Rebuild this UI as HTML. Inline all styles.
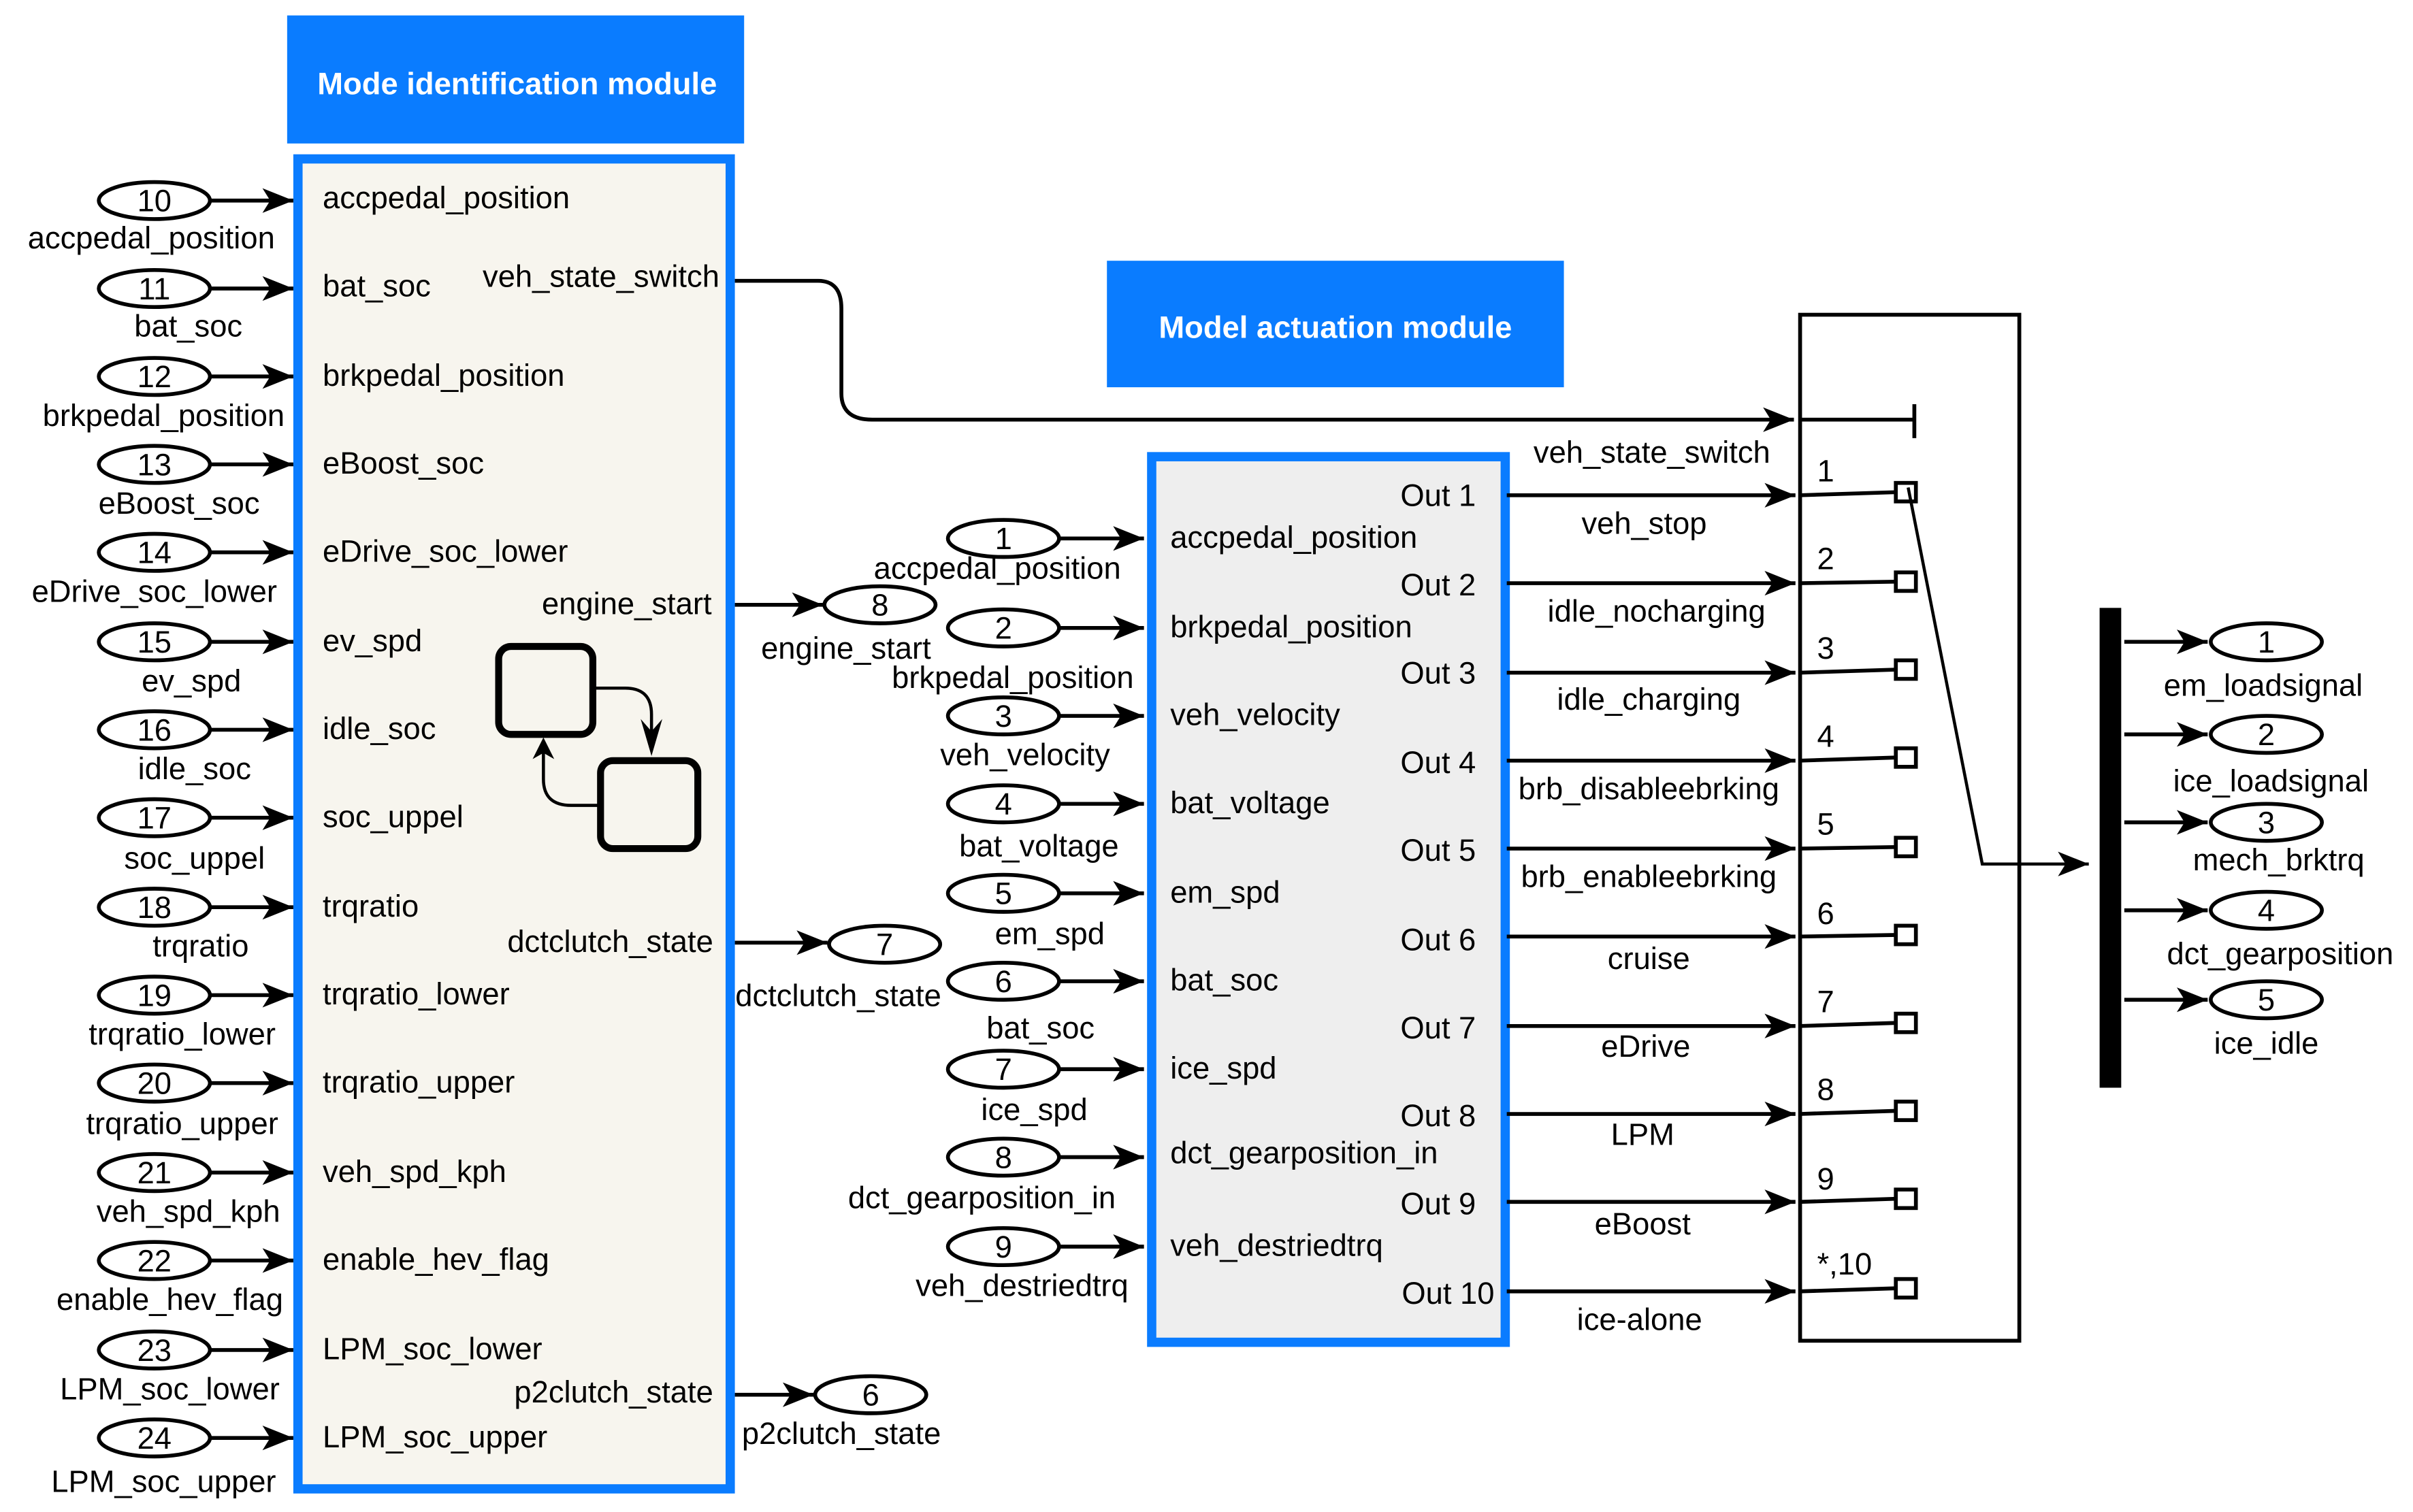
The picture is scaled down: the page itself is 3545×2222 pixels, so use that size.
<!DOCTYPE html>
<html><head><meta charset="utf-8"><style>
html,body{margin:0;padding:0;background:#fff;}
svg{display:block;}
text{font-family:"Liberation Sans",Arial,sans-serif;font-size:20px;fill:#000;}
</style></head><body>
<svg width="3545" height="2222" viewBox="0 0 1563 980" preserveAspectRatio="none" xmlns="http://www.w3.org/2000/svg">
<defs>
<marker id="a" viewBox="0 0 20 16" refX="20" refY="8" markerWidth="20" markerHeight="16" markerUnits="userSpaceOnUse" orient="auto">
<path d="M0,0 L20,8 L0,16 L5,8 Z" fill="#000"/></marker>
</defs>
<rect width="1563" height="980" fill="#fff"/>
<rect x="186" y="10" width="296" height="83" fill="#0a7cff"/>
<text x="335" y="61" text-anchor="middle" style="fill:#fff;font-weight:bold;font-size:20px">Mode identification module</text>
<rect x="193" y="103" width="280" height="862" fill="#f7f5ee" stroke="#0a7cff" stroke-width="6"/>
<g stroke="#000" stroke-width="2.5" fill="none">
<ellipse cx="100" cy="130" rx="36" ry="12"/><ellipse cx="100" cy="187" rx="36" ry="12"/><ellipse cx="100" cy="244" rx="36" ry="12"/><ellipse cx="100" cy="301" rx="36" ry="12"/><ellipse cx="100" cy="358" rx="36" ry="12"/><ellipse cx="100" cy="416" rx="36" ry="12"/><ellipse cx="100" cy="473" rx="36" ry="12"/><ellipse cx="100" cy="530" rx="36" ry="12"/><ellipse cx="100" cy="588" rx="36" ry="12"/><ellipse cx="100" cy="645" rx="36" ry="12"/><ellipse cx="100" cy="702" rx="36" ry="12"/><ellipse cx="100" cy="760" rx="36" ry="12"/><ellipse cx="100" cy="817" rx="36" ry="12"/><ellipse cx="100" cy="875" rx="36" ry="12"/><ellipse cx="100" cy="932" rx="36" ry="12"/>
</g>
<g stroke="#000" stroke-width="2.5" marker-end="url(#a)">
<line x1="136" y1="130" x2="190" y2="130"/><line x1="136" y1="187" x2="190" y2="187"/><line x1="136" y1="244" x2="190" y2="244"/><line x1="136" y1="301" x2="190" y2="301"/><line x1="136" y1="358" x2="190" y2="358"/><line x1="136" y1="416" x2="190" y2="416"/><line x1="136" y1="473" x2="190" y2="473"/><line x1="136" y1="530" x2="190" y2="530"/><line x1="136" y1="588" x2="190" y2="588"/><line x1="136" y1="645" x2="190" y2="645"/><line x1="136" y1="702" x2="190" y2="702"/><line x1="136" y1="760" x2="190" y2="760"/><line x1="136" y1="817" x2="190" y2="817"/><line x1="136" y1="875" x2="190" y2="875"/><line x1="136" y1="932" x2="190" y2="932"/>
</g>
<g text-anchor="middle">
<text x="100" y="137">10</text><text x="100" y="194">11</text><text x="100" y="251">12</text><text x="100" y="308">13</text><text x="100" y="365">14</text><text x="100" y="423">15</text><text x="100" y="480">16</text><text x="100" y="537">17</text><text x="100" y="595">18</text><text x="100" y="652">19</text><text x="100" y="709">20</text><text x="100" y="767">21</text><text x="100" y="824">22</text><text x="100" y="882">23</text><text x="100" y="939">24</text>
<text x="98" y="161">accpedal_position</text><text x="122" y="218">bat_soc</text><text x="106" y="276">brkpedal_position</text><text x="116" y="333">eBoost_soc</text><text x="100" y="390">eDrive_soc_lower</text><text x="124" y="448">ev_spd</text><text x="126" y="505">idle_soc</text><text x="126" y="563">soc_uppel</text><text x="130" y="620">trqratio</text><text x="118" y="677">trqratio_lower</text><text x="118" y="735">trqratio_upper</text><text x="122" y="792">veh_spd_kph</text><text x="110" y="849">enable_hev_flag</text><text x="110" y="907">LPM_soc_lower</text><text x="106" y="967">LPM_soc_upper</text>
</g>
<g>
<text x="209" y="135">accpedal_position</text><text x="209" y="192">bat_soc</text><text x="209" y="250">brkpedal_position</text><text x="209" y="307">eBoost_soc</text><text x="209" y="364">eDrive_soc_lower</text><text x="209" y="422">ev_spd</text><text x="209" y="479">idle_soc</text><text x="209" y="536">soc_uppel</text><text x="209" y="594">trqratio</text><text x="209" y="651">trqratio_lower</text><text x="209" y="708">trqratio_upper</text><text x="209" y="766">veh_spd_kph</text><text x="209" y="823">enable_hev_flag</text><text x="209" y="881">LPM_soc_lower</text><text x="209" y="938">LPM_soc_upper</text>
</g>
<g text-anchor="end">
<text x="466" y="186">veh_state_switch</text><text x="461" y="398">engine_start</text><text x="462" y="617">dctclutch_state</text><text x="462" y="909">p2clutch_state</text>
</g>
<g stroke="#000" fill="none">
<rect x="323" y="419" width="61" height="57" rx="8" stroke-width="4.5"/>
<rect x="389" y="493" width="63" height="57" rx="8" stroke-width="4.5"/>
<path d="M384,446 H405 Q422,446 422,463 V484" stroke-width="2"/>
<path d="M389,522 H370 Q352,522 352,505 V484" stroke-width="2"/>
</g>
<path d="M415,466 L422,490 L429,466 L422,474Z" fill="#000"/>
<path d="M345,492 L352,478 L359,492 L352,488Z" fill="#000"/>
<g stroke="#000" stroke-width="2.5" fill="none">
<path d="M476,182 H530 Q545,182 545,200 V255 Q545,272 565,272 H1162" marker-end="url(#a)"/>
<line x1="476" y1="392" x2="533" y2="392" marker-end="url(#a)"/>
<line x1="476" y1="611" x2="536" y2="611" marker-end="url(#a)"/>
<line x1="476" y1="904" x2="527" y2="904" marker-end="url(#a)"/>
<ellipse cx="570" cy="392" rx="36" ry="12"/><ellipse cx="573" cy="612" rx="36" ry="12"/><ellipse cx="564" cy="904" rx="36" ry="12"/>
</g>
<g text-anchor="middle">
<text x="570" y="399">8</text><text x="573" y="619">7</text><text x="564" y="911">6</text>
<text x="548" y="427">engine_start</text><text x="543" y="652">dctclutch_state</text><text x="545" y="936">p2clutch_state</text>
</g>
<rect x="717" y="169" width="296" height="82" fill="#0a7cff"/>
<text x="865" y="219" text-anchor="middle" style="fill:#fff;font-weight:bold;font-size:20px">Model actuation module</text>
<rect x="746" y="296" width="229" height="574" fill="#eeeeee" stroke="#0a7cff" stroke-width="6"/>
<g text-anchor="end">
<text x="956" y="328">Out 1</text><text x="956" y="386">Out 2</text><text x="956" y="443">Out 3</text><text x="956" y="501">Out 4</text><text x="956" y="558">Out 5</text><text x="956" y="616">Out 6</text><text x="956" y="673">Out 7</text><text x="956" y="730">Out 8</text><text x="956" y="787">Out 9</text><text x="968" y="845">Out 10</text>
</g>
<g>
<text x="758" y="355">accpedal_position</text><text x="758" y="413">brkpedal_position</text><text x="758" y="470">veh_velocity</text><text x="758" y="527">bat_voltage</text><text x="758" y="585">em_spd</text><text x="758" y="642">bat_soc</text><text x="758" y="699">ice_spd</text><text x="758" y="754">dct_gearposition_in</text><text x="758" y="814">veh_destriedtrq</text>
</g>
<g stroke="#000" stroke-width="2.5" fill="none">
<ellipse cx="650" cy="349" rx="36" ry="12"/><ellipse cx="650" cy="407" rx="36" ry="12"/><ellipse cx="650" cy="464" rx="36" ry="12"/><ellipse cx="650" cy="521" rx="36" ry="12"/><ellipse cx="650" cy="579" rx="36" ry="12"/><ellipse cx="650" cy="636" rx="36" ry="12"/><ellipse cx="650" cy="693" rx="36" ry="12"/><ellipse cx="650" cy="750" rx="36" ry="12"/><ellipse cx="650" cy="808" rx="36" ry="12"/>
</g>
<g stroke="#000" stroke-width="2.5" marker-end="url(#a)">
<line x1="686" y1="349" x2="741" y2="349"/><line x1="686" y1="407" x2="741" y2="407"/><line x1="686" y1="464" x2="741" y2="464"/><line x1="686" y1="521" x2="741" y2="521"/><line x1="686" y1="579" x2="741" y2="579"/><line x1="686" y1="636" x2="741" y2="636"/><line x1="686" y1="693" x2="741" y2="693"/><line x1="686" y1="750" x2="741" y2="750"/><line x1="686" y1="808" x2="741" y2="808"/>
<line x1="976" y1="321" x2="1163" y2="321"/><line x1="976" y1="378" x2="1163" y2="378"/><line x1="976" y1="436" x2="1163" y2="436"/><line x1="976" y1="493" x2="1163" y2="493"/><line x1="976" y1="550" x2="1163" y2="550"/><line x1="976" y1="607" x2="1163" y2="607"/><line x1="976" y1="665" x2="1163" y2="665"/><line x1="976" y1="722" x2="1163" y2="722"/><line x1="976" y1="779" x2="1163" y2="779"/><line x1="976" y1="837" x2="1163" y2="837"/>
<line x1="1376" y1="416" x2="1430" y2="416"/><line x1="1376" y1="476" x2="1430" y2="476"/><line x1="1376" y1="533" x2="1430" y2="533"/><line x1="1376" y1="590" x2="1430" y2="590"/><line x1="1376" y1="648" x2="1430" y2="648"/>
</g>
<g text-anchor="middle">
<text x="650" y="356">1</text><text x="650" y="414">2</text><text x="650" y="471">3</text><text x="650" y="528">4</text><text x="650" y="586">5</text><text x="650" y="643">6</text><text x="650" y="700">7</text><text x="650" y="757">8</text><text x="650" y="815">9</text>
<text x="646" y="375">accpedal_position</text><text x="656" y="446">brkpedal_position</text><text x="664" y="496">veh_velocity</text><text x="673" y="555">bat_voltage</text><text x="680" y="612">em_spd</text><text x="674" y="673">bat_soc</text><text x="670" y="726">ice_spd</text><text x="636" y="783">dct_gearposition_in</text><text x="662" y="840">veh_destriedtrq</text>
<text x="1070" y="300">veh_state_switch</text><text x="1065" y="346">veh_stop</text><text x="1073" y="403">idle_nocharging</text><text x="1068" y="460">idle_charging</text><text x="1068" y="518">brb_disableebrking</text><text x="1068" y="575">brb_enableebrking</text><text x="1068" y="628">cruise</text><text x="1066" y="685">eDrive</text><text x="1064" y="742">LPM</text><text x="1064" y="800">eBoost</text><text x="1062" y="862">ice-alone</text>
</g>
<rect x="1166" y="204" width="142" height="665" fill="none" stroke="#000" stroke-width="2.5"/>
<g stroke="#000" stroke-width="2.5" fill="none">
<path d="M1166,272H1240M1240,262V284"/>
<path d="M1166,321L1228,319M1166,378L1228,377M1166,436L1228,434M1166,493L1228,491M1166,550L1228,549M1166,607L1228,606M1166,665L1228,663M1166,722L1228,720M1166,779L1228,777M1166,837L1228,835"/>
<rect x="1228" y="313" width="13" height="12"/><rect x="1228" y="371" width="13" height="12"/><rect x="1228" y="428" width="13" height="12"/><rect x="1228" y="485" width="13" height="12"/><rect x="1228" y="543" width="13" height="12"/><rect x="1228" y="600" width="13" height="12"/><rect x="1228" y="657" width="13" height="12"/><rect x="1228" y="714" width="13" height="12"/><rect x="1228" y="771" width="13" height="12"/><rect x="1228" y="829" width="13" height="12"/>
<path d="M1236,316 L1284,560 H1353" stroke-width="2" marker-end="url(#a)"/>
<ellipse cx="1468" cy="416" rx="36" ry="12"/><ellipse cx="1468" cy="476" rx="36" ry="12"/><ellipse cx="1468" cy="533" rx="36" ry="12"/><ellipse cx="1468" cy="590" rx="36" ry="12"/><ellipse cx="1468" cy="648" rx="36" ry="12"/>
</g>
<g>
<text x="1177" y="312">1</text><text x="1177" y="369">2</text><text x="1177" y="427">3</text><text x="1177" y="484">4</text><text x="1177" y="541">5</text><text x="1177" y="599">6</text><text x="1177" y="656">7</text><text x="1177" y="713">8</text><text x="1177" y="771">9</text><text x="1177" y="826">*,10</text>
</g>
<rect x="1360" y="394" width="14" height="311" fill="#000"/>
<g text-anchor="middle">
<text x="1468" y="423">1</text><text x="1468" y="483">2</text><text x="1468" y="540">3</text><text x="1468" y="597">4</text><text x="1468" y="655">5</text>
<text x="1466" y="451">em_loadsignal</text><text x="1471" y="513">ice_loadsignal</text><text x="1476" y="564">mech_brktrq</text><text x="1477" y="625">dct_gearposition</text><text x="1468" y="683">ice_idle</text>
</g>
</svg>
</body></html>
